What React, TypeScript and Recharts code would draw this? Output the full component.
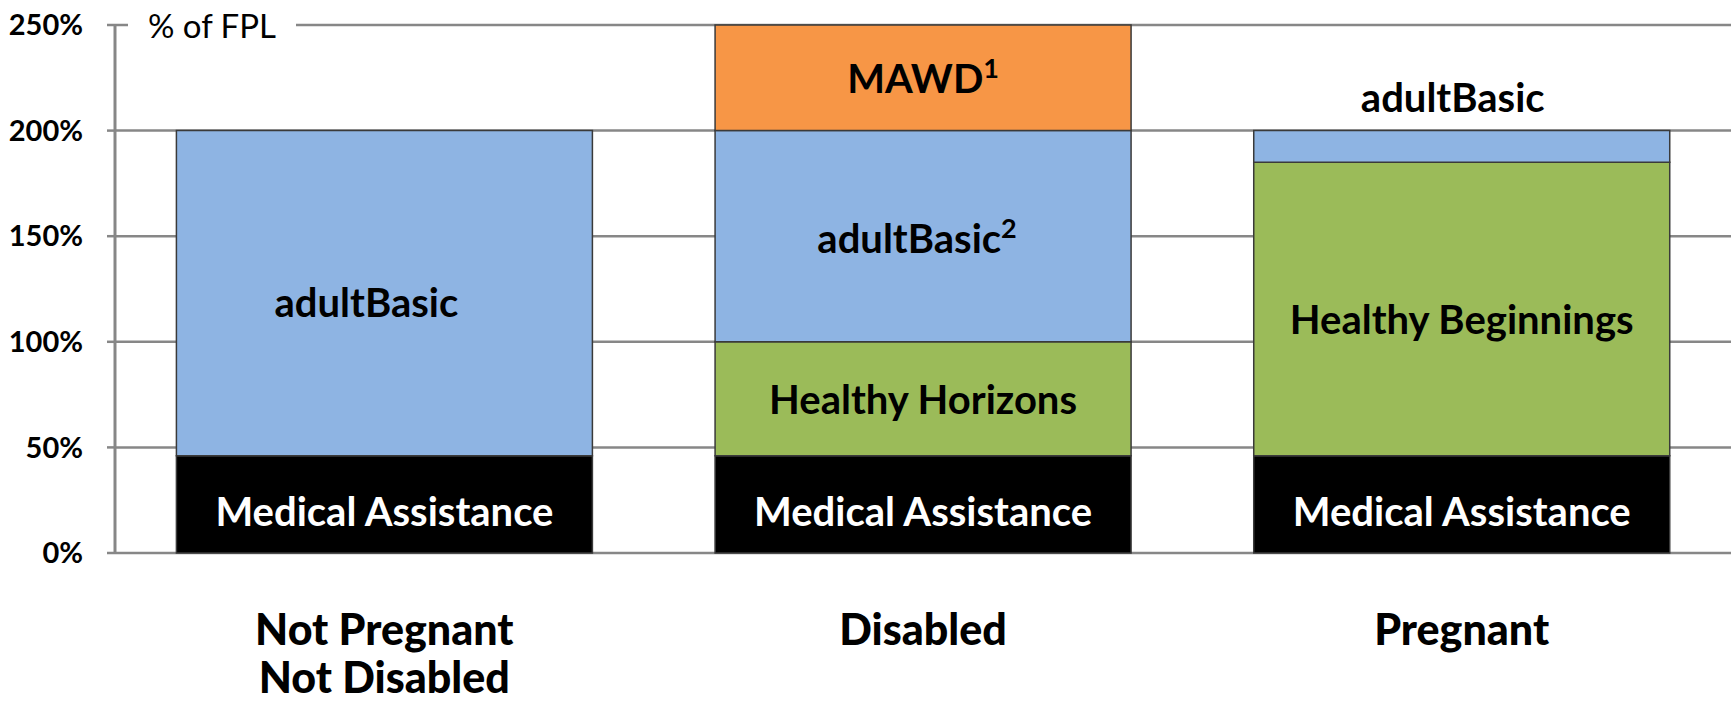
import React from "react";
import {
  BarChart,
  Bar,
  XAxis,
  YAxis,
  CartesianGrid,
  ReferenceLine,
  LabelList,
} from "recharts";

const FONT = "Lato, 'Open Sans', sans-serif";
const GRID = "#878787";
const EDGE = "#3a3a3a";

// upper limit of each program, in % of FPL
const categories = ["Not Pregnant\nNot Disabled", "Disabled", "Pregnant"];
const medicalAssistanceTop = [46, 46, 46];
const greenTop = [null, 100, 185];
const adultBasicTop = [200, 200, 200];
const mawdTop = [null, 250, null];
const yTicks = [0, 50, 100, 150, 200, 250];
const boundaryTicks = [0, 1, 2, 3];

const maLabels = ["Medical Assistance", "Medical Assistance", "Medical Assistance"];
const greenLabels = ["", "Healthy Horizons", "Healthy Beginnings"];
const adultBasicLabels = ["adultBasic", "adultBasic", "adultBasic"];
const adultBasicNotes = ["", "2", ""];
const mawdLabels = ["", "MAWD", ""];
const mawdNotes = ["", "1", ""];

const data = categories.map((name, i) => {
  const ma = medicalAssistanceTop[i];
  const g = greenTop[i] ?? ma;
  const ab = adultBasicTop[i];
  return {
    name,
    idx: i,
    ma,
    green: greenTop[i] == null ? 0 : g - ma,
    ab: ab - g,
    mawd: mawdTop[i] == null ? 0 : (mawdTop[i] as number) - ab,
  };
});

// small nudges of the label text, [dx, dy], and whether it sits above the bar
const maShift = [[0, 7], [0, 7], [0, 7]];
const greenShift = [[0, 0], [0, 0], [0, 10]];
const abShift = [[-18, 9], [-6, 2], [-9, 0]];
const noShift = [[0, 0], [0, 0], [0, 0]];
const abAbove = [false, false, true];

function segLabel(
  texts: string[],
  notes: string[] | null,
  shifts: number[][],
  fill: string,
  above?: boolean[]
) {
  return (props: any) => {
    const { viewBox, value } = props;
    const i = Number(value);
    const t = texts[i];
    if (!t || !viewBox) return null;
    const { x, y, width, height } = viewBox;
    const [dx, dy] = shifts[i] || [0, 0];
    const cy = above && above[i] ? y - 34 : y + height / 2 + dy;
    const note = notes ? notes[i] : "";
    return (
      <text
        x={x + width / 2 + dx}
        y={cy}
        textAnchor="middle"
        dominantBaseline="central"
        fontFamily={FONT}
        fontWeight={700}
        fontSize={40}
        fill={fill}
      >
        {t}
        {note ? (
          <tspan dy={-11} fontSize={27}>
            {note}
          </tspan>
        ) : null}
      </text>
    );
  };
}

const CategoryTick = (props: any) => {
  const { x, y, payload } = props;
  const lines = String(payload.value).split("\n");
  return (
    <text
      x={x}
      y={y}
      textAnchor="middle"
      fontFamily={FONT}
      fontWeight={900}
      fontSize={43}
      fill="#000"
    >
      {lines.map((l, i) => (
        <tspan key={i} x={x} y={y + 90 + i * 48}>
          {l}
        </tspan>
      ))}
    </text>
  );
};

const FplLabel = (props: any) => {
  const { viewBox } = props;
  if (!viewBox) return null;
  const { x, y } = viewBox;
  return (
    <g>
      <rect x={x + 13} y={y - 12} width={168} height={24} fill="#fff" />
      <text
        x={x + 97}
        y={y}
        textAnchor="middle"
        dominantBaseline="central"
        fontFamily={FONT}
        fontSize={33}
        fill="#000"
      >
        % of FPL
      </text>
    </g>
  );
};

const idxOf = (row: any) => row.idx;

export default function App() {
  return (
    <div style={{ position: "absolute", left: 0, top: 0, background: "#fff" }}>
      <BarChart
        width={1735}
        height={704}
        data={data}
        margin={{ top: 25, right: 4, bottom: 0, left: 0 }}
        barCategoryGap="11.4%"
      >
        <CartesianGrid
          xAxisId="cat"
          vertical={false}
          stroke={GRID}
          strokeWidth={2.5}
        />
        <XAxis
          xAxisId="edge"
          type="number"
          domain={[0, 3]}
          ticks={boundaryTicks}
          height={0}
          axisLine={{ stroke: GRID, strokeWidth: 3 }}
          tickLine={{ stroke: GRID, strokeWidth: 2.5 }}
          tickSize={17}
          tick={() => <g />}
        />
        <XAxis
          xAxisId="cat"
          dataKey="name"
          axisLine={false}
          tickLine={false}
          tickSize={0}
          height={151}
          interval={0}
          tick={<CategoryTick />}
        />
        <YAxis
          domain={[0, 250]}
          ticks={yTicks}
          width={115}
          axisLine={{ stroke: GRID, strokeWidth: 3 }}
          tickLine={{ stroke: GRID, strokeWidth: 2.5 }}
          tickSize={8}
          tickMargin={24}
          tickFormatter={(v) => `${v}%`}
          tick={{ fontFamily: FONT, fontWeight: 700, fontSize: 29, fill: "#000" }}
        />
        <ReferenceLine
          xAxisId="cat"
          y={250}
          stroke="none"
          label={<FplLabel />}
        />
        <Bar xAxisId="cat" dataKey="ma" stackId="a" fill="#000000" stroke={EDGE} strokeWidth={1.5} isAnimationActive={false}>
          <LabelList dataKey={idxOf} content={segLabel(maLabels, null, maShift, "#fff")} />
        </Bar>
        <Bar xAxisId="cat" dataKey="green" stackId="a" fill="#9BBB59" stroke={EDGE} strokeWidth={1.5} isAnimationActive={false}>
          <LabelList dataKey={idxOf} content={segLabel(greenLabels, null, greenShift, "#000")} />
        </Bar>
        <Bar xAxisId="cat" dataKey="ab" stackId="a" fill="#8EB4E3" stroke={EDGE} strokeWidth={1.5} isAnimationActive={false}>
          <LabelList
            dataKey={idxOf}
            content={segLabel(adultBasicLabels, adultBasicNotes, abShift, "#000", abAbove)}
          />
        </Bar>
        <Bar xAxisId="cat" dataKey="mawd" stackId="a" fill="#F79646" stroke={EDGE} strokeWidth={1.5} isAnimationActive={false}>
          <LabelList dataKey={idxOf} content={segLabel(mawdLabels, mawdNotes, noShift, "#000")} />
        </Bar>
      </BarChart>
    </div>
  );
}
